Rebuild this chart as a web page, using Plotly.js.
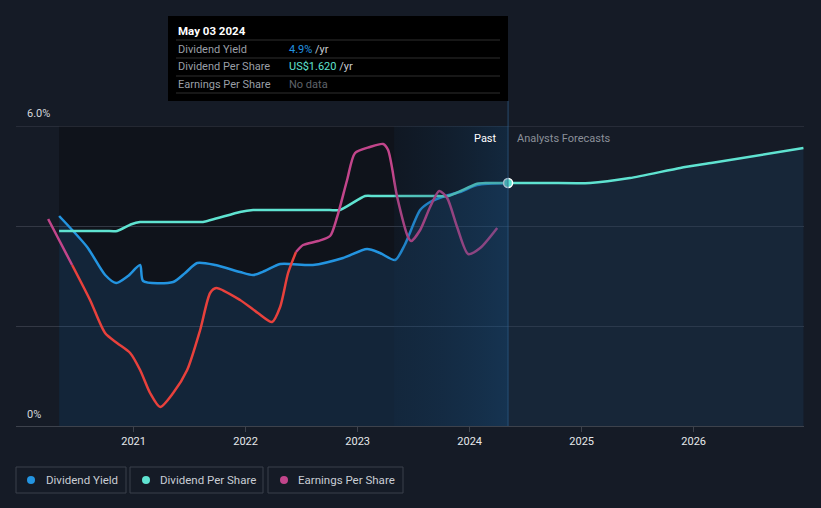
<!DOCTYPE html>
<html><head><meta charset="utf-8">
<script src="https://cdn.plot.ly/plotly-3.0.1.min.js"></script>
<style>html,body{margin:0;padding:0;background:#151b26;}#chart{width:821px;height:508px;}</style>
</head><body><div id="chart"></div>
<script>
// ---- data (decimal years) ----
const yieldYears = [2020.335,2020.585,2020.746,2020.844,2020.95,2021.058,2021.085,2021.353,2021.46,2021.567,2021.73,2021.95,2022.067,2022.17,2022.308,2022.60,2022.87,2023.084,2023.2,2023.335,2023.42,2023.558,2023.647,2023.78,2023.915,2024.067,2024.343];
const yieldPct   = [4.20,3.58,3.02,2.86,3.00,3.22,2.90,2.88,3.06,3.26,3.22,3.08,3.02,3.10,3.24,3.22,3.36,3.54,3.46,3.32,3.62,4.32,4.48,4.60,4.68,4.82,4.86];

const dpsYears = [2020.335,2020.75,2020.853,2020.98,2021.058,2021.15,2021.55,2021.62,2021.95,2022.067,2022.15,2022.75,2022.843,2023.066,2023.15,2023.72,2023.808,2024.067,2024.15,2024.343];
const dpsUSD   = [1.30,1.30,1.30,1.345,1.36,1.36,1.36,1.36,1.427,1.44,1.44,1.44,1.44,1.533,1.533,1.533,1.533,1.615,1.62,1.62];

const dpsForecastYears = [2024.343,2024.7,2025.075,2025.43,2025.88,2026.17,2026.98];
const dpsForecastUSD   = [1.62,1.62,1.62,1.653,1.72,1.755,1.853];

const epsYears = [2020.237,2020.344,2020.451,2020.611,2020.745,2020.852,2020.969,2021.058,2021.147,2021.237,2021.353,2021.478,2021.594,2021.683,2021.737,2021.95,2022.11,2022.236,2022.308,2022.379,2022.45,2022.513,2022.647,2022.754,2022.817,2022.906,2022.977,2023.11,2023.227,2023.272,2023.353,2023.45,2023.478,2023.558,2023.647,2023.728,2023.799,2023.888,2023.987,2024.094,2024.246];
const epsUSD   = [2.07,1.84,1.61,1.26,0.93,0.83,0.73,0.56,0.33,0.19,0.33,0.56,0.96,1.33,1.38,1.26,1.13,1.04,1.19,1.53,1.74,1.81,1.85,1.90,2.09,2.46,2.73,2.79,2.82,2.76,2.29,1.89,1.85,1.96,2.19,2.35,2.28,1.99,1.72,1.78,1.98];
const epsRedFrom = 2, epsRedTo = 20; // index range drawn in red

const xTickYears = [2021,2022,2023,2024,2025,2026];
const yGridPct = [0,2,4,6];
const yLabelTop = '6.0%', yLabelBottom = '0%';

const pastStart = 2020.335, bandStart = 2023.326, todayYear = 2024.343;

const legendNames = ['Dividend Yield','Dividend Per Share','Earnings Per Share'];

// ---- styles ----
const C = {blue:'#2394e0', cyan:'#5fe3d1', pink:'#c2458b', red:'#e8413c', bg:'#151b26', past:'#0f131b'};
const X = px => (px-16)/788;
const Y = py => (426-py)/300;

const epsA = {x:epsYears.slice(0,epsRedFrom+1), y:epsUSD.slice(0,epsRedFrom+1)};
const epsR = {x:epsYears.slice(epsRedFrom,epsRedTo+1), y:epsUSD.slice(epsRedFrom,epsRedTo+1)};
const epsB = {x:epsYears.slice(epsRedTo), y:epsUSD.slice(epsRedTo)};

const traces = [
  {x:[bandStart,todayYear,todayYear,bandStart], y:[0,0,1,1], yaxis:'y4', type:'scatter', mode:'none', fill:'toself',
   fillgradient:{type:'horizontal', colorscale:[[0,'rgba(20,50,80,0.15)'],[1,'rgba(25,75,120,0.38)']]}, hoverinfo:'skip', showlegend:false},
  {x:yieldYears, y:yieldPct, type:'scatter', mode:'lines', fill:'tozeroy', fillcolor:'rgba(32,85,135,0.28)',
   line:{color:C.blue, width:2.5, shape:'spline', smoothing:0.7}, showlegend:false},
  {x:dpsForecastYears, y:dpsForecastUSD, yaxis:'y2', type:'scatter', mode:'lines', fill:'tozeroy', fillcolor:'rgba(28,60,92,0.35)',
   line:{color:C.cyan, width:2.5, shape:'spline', smoothing:0.6}, showlegend:false},
  {x:dpsYears, y:dpsUSD, yaxis:'y2', type:'scatter', mode:'lines',
   line:{color:C.cyan, width:2.5, shape:'spline', smoothing:0.6}, showlegend:false},
  {x:epsA.x, y:epsA.y, yaxis:'y3', type:'scatter', mode:'lines', line:{color:C.pink, width:2.5, shape:'spline', smoothing:0.7}, showlegend:false},
  {x:epsR.x, y:epsR.y, yaxis:'y3', type:'scatter', mode:'lines', line:{color:C.red, width:2.5, shape:'spline', smoothing:0.7}, showlegend:false},
  {x:epsB.x, y:epsB.y, yaxis:'y3', type:'scatter', mode:'lines', line:{color:C.pink, width:2.5, shape:'spline', smoothing:0.7}, showlegend:false},
  {x:[todayYear], y:[dpsForecastUSD[0]], yaxis:'y2', type:'scatter', mode:'markers',
   marker:{color:C.cyan, size:9, line:{color:'#ffffff', width:1.5}}, showlegend:false}
];

const shapes = [
  {type:'rect', xref:'x', yref:'paper', x0:pastStart, x1:todayYear, y0:0, y1:1, fillcolor:C.past, line:{width:0}, layer:'below'},
  {type:'line', xref:'paper', yref:'y', x0:0, x1:1, y0:yGridPct[yGridPct.length-1], y1:yGridPct[yGridPct.length-1], line:{color:'#3a3f4a', width:1}, layer:'below'},
  {type:'line', xref:'x', yref:'paper', x0:todayYear, x1:todayYear, y0:0, y1:Y(101), line:{color:'rgba(45,95,140,0.7)', width:1}},
  // tooltip
  {type:'rect', xref:'paper', yref:'paper', x0:X(168), x1:X(508), y0:Y(101), y1:Y(16), fillcolor:'#000000', line:{width:0}},
];
[40,58,76,93].forEach(py => shapes.push({type:'line', xref:'paper', yref:'paper', x0:X(176), x1:X(500), y0:Y(py), y1:Y(py), line:{color:'#2e2e2e', width:1}}));

// legend boxes
const boxes = [[16,126,31,44],[130,263,146,158],[268,403,284,296]];
const legendColors = [C.blue, C.cyan, C.pink];
boxes.forEach((b,i) => {
  shapes.push({type:'rect', xref:'paper', yref:'paper', x0:X(b[0]), x1:X(b[1]), y0:Y(493), y1:Y(467), line:{color:'#3b404b', width:1}, fillcolor:'rgba(0,0,0,0)'});
  shapes.push({type:'circle', xref:'paper', yref:'paper', x0:X(b[2]-4), x1:X(b[2]+4), y0:Y(484), y1:Y(476), fillcolor:legendColors[i], line:{width:0}});
});

const F = 'Roboto, "Open Sans", sans-serif';
const ann = (px,py,text,color,size,anchor,extra) => Object.assign({xref:'paper', yref:'paper', x:X(px), y:Y(py), text, showarrow:false, xanchor:anchor||'left', yanchor:'middle', font:{family:F, size:size||11, color}}, extra||{});
const annotations = [
  ann(25,114,yLabelTop,'#d4d7dd',11),
  ann(25,414,yLabelBottom,'#d4d7dd',11),
  ann(499,138,'Past','#ffffff',11,'right'),
  ann(515,138,'Analysts Forecasts','#8b9099',11),
  ann(176,31,'<b>May 03 2024</b>','#ffffff',11.5),
  ann(176,49,'Dividend Yield','#9a9fa6',11),
  ann(176,66,'Dividend Per Share','#9a9fa6',11),
  ann(176,84,'Earnings Per Share','#9a9fa6',11),
  ann(287,49,'<span style="color:#2394e0">4.9%</span> /yr','#c9ccd1',11),
  ann(287,66,'<span style="color:#5fe3d1">US$1.620</span> /yr','#c9ccd1',11),
  ann(287,84,'No data','#5f636a',11),
];
boxes.forEach((b,i) => annotations.push(ann(b[3],480,legendNames[i],'#c9cdd4',11.5)));

const layout = {
  width:821, height:508,
  paper_bgcolor:C.bg, plot_bgcolor:C.bg,
  margin:{l:16, r:17, t:126, b:82},
  showlegend:false,
  xaxis:{range:[2019.95,2026.985], tickvals:xTickYears, ticktext:xTickYears.map(String), showgrid:false, zeroline:false,
         showline:true, linecolor:'#3d424c', linewidth:1, ticks:'outside', ticklen:5, tickcolor:'#3d424c',
         tickfont:{family:F, size:11, color:'#e6e8eb'}, fixedrange:true},
  yaxis:{range:[0,6], tickvals:yGridPct, showticklabels:false, showgrid:true, gridcolor:'#333844', gridwidth:1, zeroline:false, fixedrange:true},
  yaxis2:{range:[0,2.0], overlaying:'y', visible:false, fixedrange:true},
  yaxis3:{range:[0,3.0], overlaying:'y', visible:false, fixedrange:true},
  yaxis4:{range:[0,1], overlaying:'y', visible:false, fixedrange:true},
  shapes, annotations
};
Plotly.newPlot('chart', traces, layout, {displayModeBar:false, staticPlot:true});
</script></body></html>
